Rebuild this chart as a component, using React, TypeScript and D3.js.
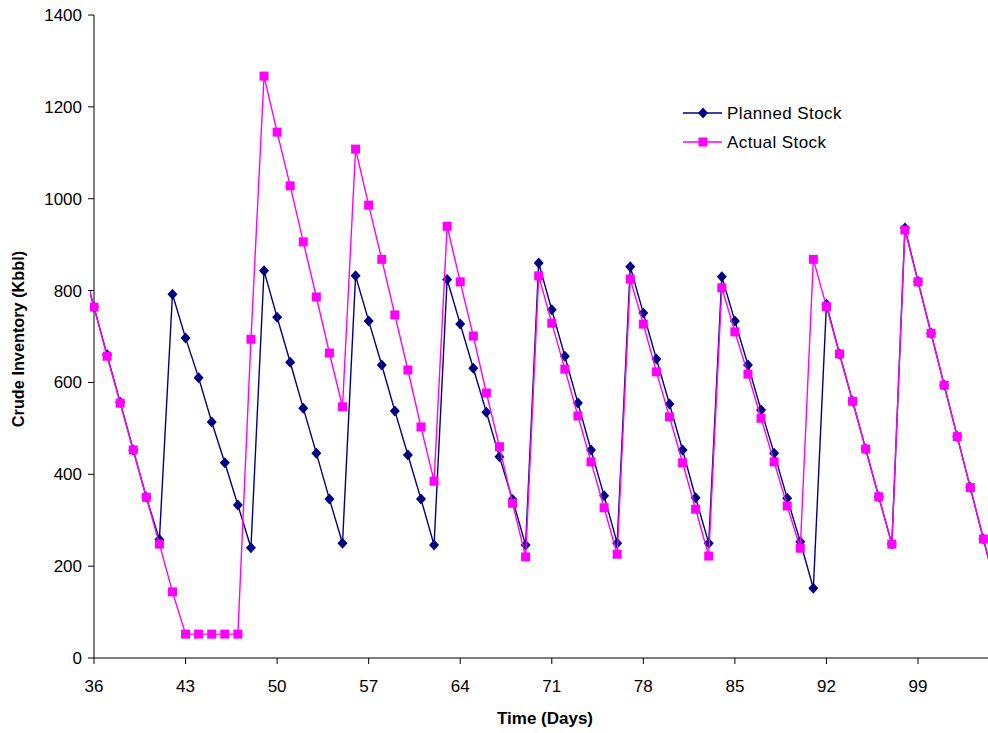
import React from "react";
import * as d3 from "d3";

const days: number[] = d3.range(35, 106);
const plannedStock: number[] = [
  868, 764, 660, 557, 453, 350, 258, 792, 697, 610, 514, 425, 333, 240,
  843, 742, 644, 544, 446, 346, 250, 832, 734, 638, 538, 442, 346, 246,
  824, 727, 631, 535, 438, 345, 246, 860, 758, 657, 555, 453, 353, 250,
  852, 751, 651, 553, 453, 349, 250, 830, 734, 638, 540, 446, 348, 253,
  152, 770, 662, 559, 455, 351, 248, 936, 820, 707, 594, 482, 371, 259, 148,
];
const actualStock: number[] = [
  868, 764, 657, 555, 453, 350, 248, 144, 52, 52, 52, 52, 52, 694,
  1267, 1145, 1028, 906, 786, 664, 547, 1108, 986, 868, 747, 627, 503, 385,
  940, 819, 701, 577, 460, 337, 220, 832, 729, 629, 527, 427, 327, 226,
  825, 727, 623, 525, 425, 324, 222, 806, 710, 618, 522, 427, 331, 239,
  868, 765, 662, 559, 455, 351, 248, 932, 819, 707, 594, 482, 371, 259, 148,
];
const xTicks: number[] = [36, 43, 50, 57, 64, 71, 78, 85, 92, 99];
const yTicks: number[] = [0, 200, 400, 600, 800, 1000, 1200, 1400];
const seriesNames: string[] = ["Planned Stock", "Actual Stock"];

const W = 988;
const H = 733;
const FONT = "'Liberation Sans', Arial, sans-serif";
const NAVY = "#000080";
const MAGENTA = "#FF00FF";

const diamondPath = (cx: number, cy: number) => {
  const p = d3.path();
  p.moveTo(cx, cy - 5.5);
  p.lineTo(cx + 5, cy);
  p.lineTo(cx, cy + 5.5);
  p.lineTo(cx - 5, cy);
  p.closePath();
  return p.toString();
};

export default function App() {
  const left = 94;
  const x = d3.scaleLinear().domain([36, 99]).range([left, 918]);
  const y = d3.scaleLinear().domain([0, 1400]).range([658, 15]);

  const planned = days.map((d, i) => ({ d, v: plannedStock[i] }));
  const actual = days.map((d, i) => ({ d, v: actualStock[i] }));
  const line = d3
    .line<{ d: number; v: number }>()
    .x((p) => x(p.d))
    .y((p) => y(p.v));

  return (
    <svg
      width={W}
      height={H}
      style={{ position: "absolute", left: 0, top: 0, background: "#fff" }}
      fontFamily={FONT}
    >
      <defs>
        <clipPath id="plotClip">
          <rect x={90} y={0} width={W - 90} height={670} />
        </clipPath>
      </defs>

      {/* axes */}
      <line x1={left} x2={left} y1={y(1400)} y2={y(0)} stroke="#000" strokeWidth={1} />
      <line x1={left} x2={W} y1={y(0)} y2={y(0)} stroke="#000" strokeWidth={1} />
      {yTicks.map((t) => (
        <g key={"y" + t}>
          <line x1={left - 6} x2={left} y1={y(t)} y2={y(t)} stroke="#000" />
          <text x={82} y={y(t) + 6} textAnchor="end" fontSize={17} fill="#000">
            {t}
          </text>
        </g>
      ))}
      {xTicks.map((t) => (
        <g key={"x" + t}>
          <line x1={x(t)} x2={x(t)} y1={y(0)} y2={y(0) + 6} stroke="#000" />
          <text x={x(t)} y={692} textAnchor="middle" fontSize={17} fill="#000">
            {t}
          </text>
        </g>
      ))}

      {/* axis titles */}
      <text
        x={545}
        y={724}
        textAnchor="middle"
        fontSize={17}
        fontWeight="bold"
        fill="#000"
      >
        Time (Days)
      </text>
      <text
        transform={`translate(24,339) rotate(-90)`}
        textAnchor="middle"
        fontSize={16.3}
        fontWeight="bold"
        fill="#000"
      >
        Crude Inventory (Kbbl)
      </text>

      {/* series */}
      <g clipPath="url(#plotClip)">
        <path d={line(planned)!} fill="none" stroke={NAVY} strokeWidth={1.4} />
        {planned.map((p) => (
          <path key={"p" + p.d} d={diamondPath(x(p.d), y(p.v))} fill={NAVY} />
        ))}
        <path d={line(actual)!} fill="none" stroke={MAGENTA} strokeWidth={1.4} />
        {actual.map((p) => (
          <rect
            key={"a" + p.d}
            x={x(p.d) - 4.5}
            y={y(p.v) - 4.5}
            width={9}
            height={9}
            fill={MAGENTA}
          />
        ))}
      </g>

      {/* legend */}
      <g>
        <line x1={683} x2={722} y1={113} y2={113} stroke={NAVY} strokeWidth={1.4} />
        <path d={diamondPath(703, 113)} fill={NAVY} />
        <text x={727} y={119} fontSize={17} letterSpacing={0.4} fill="#000">
          {seriesNames[0]}
        </text>
        <line x1={683} x2={722} y1={142} y2={142} stroke={MAGENTA} strokeWidth={1.4} />
        <rect x={698.5} y={137.5} width={9} height={9} fill={MAGENTA} />
        <text x={727} y={148} fontSize={17} letterSpacing={0.4} fill="#000">
          {seriesNames[1]}
        </text>
      </g>
    </svg>
  );
}
